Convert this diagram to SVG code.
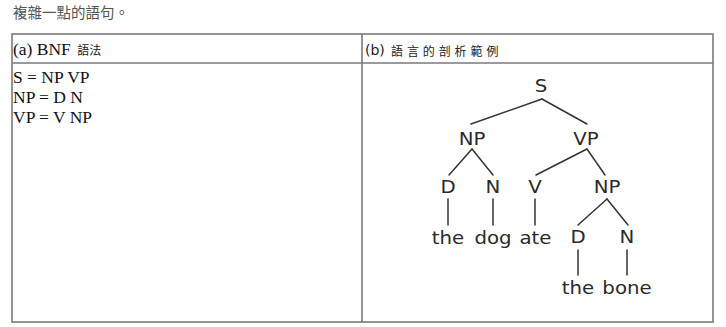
<svg xmlns="http://www.w3.org/2000/svg" width="726" height="327" viewBox="0 0 726 327">
  <style>
    .grid { fill: none; stroke: #7a7a7a; stroke-width: 1.6; }
    .caption { font-family: "Noto Sans CJK TC", "Noto Sans CJK SC", sans-serif; font-size: 14.5px; fill: #555; }
    .serif { font-family: "Liberation Serif", "Noto Sans CJK TC", serif; font-size: 17.5px; fill: #111; }
    .cjk-small { font-family: "Noto Sans CJK TC", sans-serif; font-size: 12px; fill: #222; }
    .hdr-sans { font-family: "DejaVu Sans", sans-serif; font-size: 14px; fill: #222; }
    .node { font-family: "DejaVu Sans", sans-serif; font-size: 17.5px; fill: #2a2a2a; text-anchor: middle; }
    .edge { stroke: #333; stroke-width: 1.5; fill: none; stroke-linecap: round; }
  </style>

  <rect width="726" height="327" fill="#fff"/>

  <text class="caption" x="13" y="18">複雜一點的語句。</text>

  <!-- table frame -->
  <g id="table">
    <rect class="grid" x="12" y="34" width="701" height="288"/>
    <line class="grid" x1="12" y1="63" x2="713" y2="63"/>
    <line class="grid" x1="362" y1="34" x2="362" y2="322"/>
  </g>

  <!-- left column: grammar -->
  <g id="bnf">
    <text class="serif" x="13" y="55">(a) BNF <tspan class="cjk-small" font-size="11.5px" dx="2">語法</tspan></text>
    <text class="serif" x="13" y="83">S = NP VP</text>
    <text class="serif" x="13" y="103">NP = D N</text>
    <text class="serif" x="13" y="123">VP = V NP</text>
  </g>

  <!-- right column header -->
  <g id="parse-header">
    <text class="hdr-sans" x="365" y="55">(b)</text>
    <text class="cjk-small" x="391" y="56" letter-spacing="3.9">語言的剖析範例</text>
  </g>

  <!-- parse tree edges -->
  <g id="edges">
    <line class="edge" x1="542" y1="99" x2="471" y2="124"/>
    <line class="edge" x1="542" y1="99" x2="587" y2="124"/>
    <line class="edge" x1="472" y1="149" x2="449" y2="175"/>
    <line class="edge" x1="472" y1="149" x2="493" y2="175"/>
    <line class="edge" x1="587" y1="149" x2="536" y2="175"/>
    <line class="edge" x1="587" y1="149" x2="605" y2="175"/>
    <line class="edge" x1="448" y1="199" x2="448" y2="225"/>
    <line class="edge" x1="493" y1="199" x2="493" y2="225"/>
    <line class="edge" x1="535" y1="199" x2="535" y2="225"/>
    <line class="edge" x1="607" y1="199" x2="578" y2="225"/>
    <line class="edge" x1="607" y1="199" x2="628" y2="225"/>
    <line class="edge" x1="578" y1="250" x2="578" y2="275"/>
    <line class="edge" x1="627" y1="250" x2="627" y2="275"/>
  </g>

  <!-- parse tree nodes -->
  <g id="n-s"><text class="node" transform="translate(541,92) scale(1.13,1)">S</text></g>
  <g id="n-np1"><text class="node" transform="translate(472,145) scale(1.13,1)">NP</text></g>
  <g id="n-vp"><text class="node" transform="translate(586,145) scale(1.13,1)">VP</text></g>
  <g id="n-d1"><text class="node" transform="translate(448,193) scale(1.13,1)">D</text></g>
  <g id="n-n1"><text class="node" transform="translate(493,193) scale(1.13,1)">N</text></g>
  <g id="n-v"><text class="node" transform="translate(535,193) scale(1.13,1)">V</text></g>
  <g id="n-np2"><text class="node" transform="translate(607,193) scale(1.13,1)">NP</text></g>
  <g id="w-the1"><text class="node" transform="translate(448,244) scale(1.13,1)">the</text></g>
  <g id="w-dog"><text class="node" transform="translate(493,244) scale(1.13,1)">dog</text></g>
  <g id="w-ate"><text class="node" transform="translate(535.5,244) scale(1.13,1)">ate</text></g>
  <g id="n-d2"><text class="node" transform="translate(578,243) scale(1.13,1)">D</text></g>
  <g id="n-n2"><text class="node" transform="translate(627,243) scale(1.13,1)">N</text></g>
  <g id="w-the2"><text class="node" transform="translate(578,294) scale(1.13,1)">the</text></g>
  <g id="w-bone"><text class="node" transform="translate(627,294) scale(1.13,1)">bone</text></g>
</svg>
